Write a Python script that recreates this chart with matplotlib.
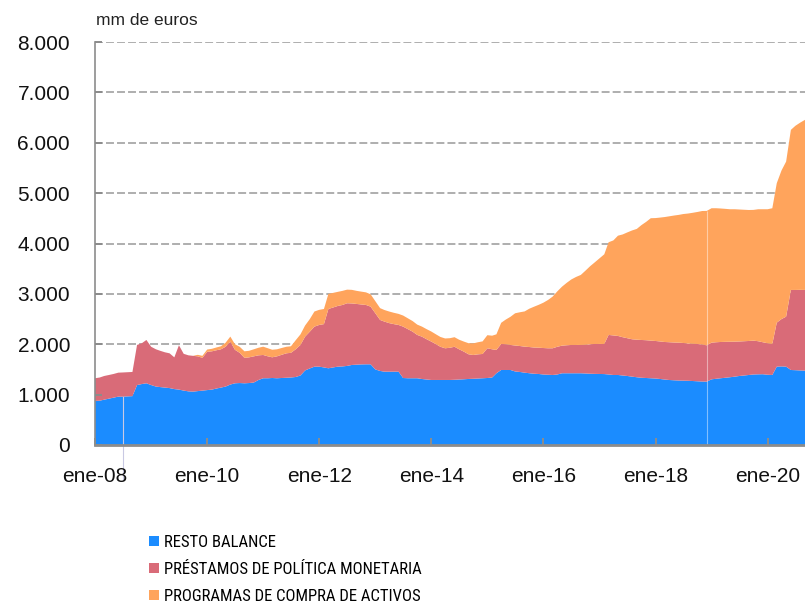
import numpy as np
import pandas as pd
import matplotlib
matplotlib.use("Agg")
import matplotlib.pyplot as plt
from matplotlib import font_manager
from matplotlib.patches import Patch
from matplotlib.ticker import FuncFormatter

# datos mensuales, ene-2008 a sep-2020 (mm de euros)
resto = [
    875, 880, 900, 920, 940, 960, 960, 965, 970, 1190, 1210, 1225,
    1190, 1160, 1150, 1140, 1130, 1110, 1100, 1080, 1065, 1060, 1070, 1080,
    1090, 1100, 1120, 1140, 1160, 1200, 1225, 1230, 1225, 1230, 1240, 1290,
    1325, 1325, 1330, 1325, 1330, 1335, 1340, 1350, 1380, 1480, 1520, 1555,
    1555, 1540, 1523, 1540, 1555, 1560, 1570, 1589, 1595, 1600, 1602, 1602,
    1500, 1470, 1456, 1456, 1456, 1456, 1330, 1325, 1325, 1325, 1310, 1300,
    1291, 1291, 1291, 1291, 1291, 1295, 1300, 1305, 1311, 1315, 1320, 1325,
    1330, 1340, 1424, 1489, 1489, 1489, 1460, 1450, 1436, 1425, 1415, 1410,
    1400, 1395, 1390, 1400, 1424, 1424, 1424, 1424, 1424, 1420, 1415, 1412,
    1410, 1408, 1400, 1390, 1390, 1380, 1370, 1357, 1345, 1335, 1330, 1325,
    1320, 1310, 1300, 1290, 1285, 1280, 1278, 1275, 1270, 1265, 1260, 1258,
    1304, 1315, 1325, 1335, 1345, 1357, 1370, 1380, 1390, 1400, 1403, 1405,
    1395, 1390, 1555, 1560, 1555, 1489, 1485, 1480, 1476,
]
# nivel acumulado resto + prestamos
hasta_prestamos = [
    1325, 1340, 1370, 1390, 1410, 1436, 1440, 1445, 1450, 1986, 2020, 2085,
    1950, 1900, 1870, 1840, 1820, 1740, 1980, 1810, 1780, 1770, 1760, 1730,
    1850, 1860, 1880, 1900, 1950, 2052, 1890, 1830, 1730, 1740, 1760, 1780,
    1787, 1760, 1741, 1760, 1790, 1820, 1830, 1900, 1986, 2151, 2250, 2350,
    2383, 2400, 2700, 2730, 2760, 2780, 2814, 2810, 2800, 2790, 2780, 2747,
    2615, 2482, 2450, 2420, 2400, 2383, 2350, 2300, 2250, 2185, 2150, 2100,
    2052, 2000, 1950, 1920, 1930, 1950, 1900, 1853, 1800, 1787, 1800, 1807,
    1920, 1900, 1887, 2006, 2000, 1986, 1975, 1965, 1952, 1945, 1935, 1932,
    1925, 1920, 1920, 1950, 1972, 1980, 1986, 1986, 1986, 1990, 2000, 2006,
    2006, 2006, 2185, 2175, 2165, 2140, 2120, 2099, 2090, 2085, 2080, 2072,
    2065, 2055, 2045, 2040, 2035, 2032, 2025, 2015, 2010, 2006, 1995, 1979,
    2032, 2040, 2045, 2048, 2050, 2052, 2055, 2060, 2065, 2072, 2060, 2040,
    2020, 2006, 2429, 2500, 2548, 3078, 3078, 3080, 3078,
]
programas = [
    0, 0, 0, 0, 0, 0, 0, 0, 0, 0, 0, 0,
    0, 0, 0, 0, 0, 0, 0, 0, 0, 0, 30, 40,
    45, 50, 55, 60, 80, 100, 110, 120, 130, 130, 140, 150,
    165, 160, 150, 140, 135, 130, 130, 180, 210, 220, 250, 300,
    300, 300, 300, 290, 280, 280, 270, 270, 260, 255, 250, 245,
    240, 235, 230, 230, 225, 220, 220, 215, 210, 205, 200, 200,
    200, 195, 195, 195, 190, 190, 190, 200, 220, 230, 240, 250,
    260, 270, 310, 420, 490, 560, 640, 670, 700, 760, 810, 850,
    900, 960, 1025, 1100, 1170, 1239, 1300, 1350, 1390, 1470, 1550, 1620,
    1700, 1780, 1840, 1886, 1990, 2040, 2100, 2160, 2200, 2280, 2350, 2430,
    2440, 2460, 2480, 2500, 2520, 2536, 2560, 2580, 2600, 2620, 2650, 2668,
    2668, 2660, 2650, 2640, 2630, 2628, 2620, 2610, 2600, 2595, 2620, 2640,
    2660, 2694, 2768, 2950, 3078, 3178, 3260, 3320, 3377,
]
etiquetas = ["RESTO BALANCE", "PRÉSTAMOS DE POLÍTICA MONETARIA",
             "PROGRAMAS DE COMPRA DE ACTIVOS"]
colores = ["#1B8CFF", "#D96B78", "#FFA45C"]

fechas = pd.date_range("2008-01-01", periods=len(resto), freq="MS")
resto = np.array(resto, float)
prestamos = np.array(hasta_prestamos, float) - resto
programas = np.array(programas, float)

nombres = {f.name for f in font_manager.fontManager.ttflist}
fuente = "Liberation Sans" if "Liberation Sans" in nombres else "DejaVu Sans"
fuente_ley = fuente
for n in ["Roboto Condensed", "Archivo Narrow", "PT Sans Narrow",
          "Liberation Sans Narrow", "Fira Sans Condensed", "IBM Plex Sans Condensed",
          "Encode Sans Condensed", "Pragati Narrow"]:
    if n in nombres:
        fuente_ley = n
        break
plt.rcParams["font.family"] = [fuente, "DejaVu Sans"]

fig = plt.figure(figsize=(8.05, 6.08), dpi=100)
ax = fig.add_axes([95 / 805, 163 / 608, 710 / 805, 403 / 608])

for v in range(1000, 9000, 1000):
    ax.axhline(v, color="#A8A8A8", lw=1.3, linestyle=(0, (4.4, 1.7)), zorder=0.5)

ax.stackplot(fechas, resto, prestamos, programas, colors=colores, lw=0, zorder=1)

# linea blanca fina (hueco en los datos) y linea clara bajo el eje
i = list(fechas).index(pd.Timestamp("2018-12-01"))
ax.vlines(fechas[i], 0, resto[i] + prestamos[i] + programas[i],
          color="white", alpha=0.45, lw=0.8, zorder=1.1)
ax.plot([fechas[6], fechas[6]], [resto[6], -700], color="#C9C9E3", lw=0.8,
        clip_on=False, zorder=1.1)

ax.set_xlim(fechas[0], fechas[-1])
ax.set_ylim(0, 8000)
ax.set_yticks(range(0, 9000, 1000))
ax.yaxis.set_major_formatter(FuncFormatter(lambda v, p: f"{int(v):,}".replace(",", ".")))
ticks_x = pd.date_range("2008-01-01", "2020-01-01", freq="24MS")
ax.set_xticks(ticks_x)
ax.set_xticklabels([f"ene-{d.year % 100:02d}" for d in ticks_x])

for s in ["top", "right"]:
    ax.spines[s].set_visible(False)
ax.spines["left"].set_color("#8C8C8C")
ax.spines["left"].set_linewidth(1.2)
ax.spines["bottom"].set_color("#8C8C8C")
ax.spines["bottom"].set_linewidth(2)
ax.tick_params(axis="x", direction="in", length=5, width=1.4, color="#8C8C8C",
               pad=16, labelsize=15, labelcolor="#111111")
ax.tick_params(axis="y", direction="in", length=5, width=1.4, color="#8C8C8C",
               pad=18, labelsize=15, labelcolor="#111111")

fig.text(96 / 805, 1 - 25 / 608, "mm de euros", fontsize=12.5, color="#222222")

handles = [Patch(facecolor=c, edgecolor="none") for c in colores]
fig.legend(handles, etiquetas, loc="upper left", bbox_to_anchor=(141 / 805, 1 - 527 / 608),
           frameon=False, handlelength=0.55, handleheight=0.55, handletextpad=0.35,
           labelspacing=0.72, borderpad=0,
           prop={"family": [fuente_ley, fuente], "size": 12})

fig.savefig("out.png", dpi=100)
